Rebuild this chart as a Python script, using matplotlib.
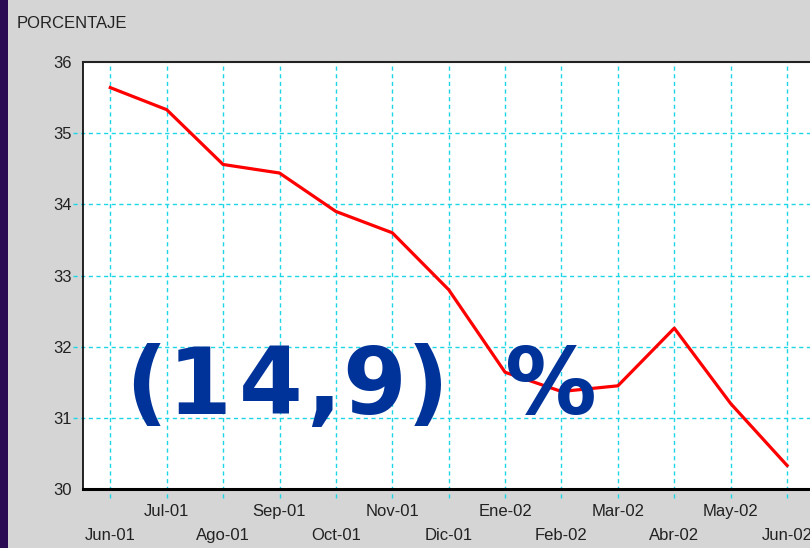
import matplotlib
matplotlib.use("Agg")
import matplotlib.pyplot as plt
from matplotlib.patches import Rectangle
import matplotlib.transforms as mtrans

months = ["Jun-01", "Jul-01", "Ago-01", "Sep-01", "Oct-01", "Nov-01", "Dic-01",
          "Ene-02", "Feb-02", "Mar-02", "Abr-02", "May-02", "Jun-02"]
values = [35.64, 35.33, 34.56, 34.44, 33.90, 33.60, 32.80,
          31.64, 31.37, 31.45, 32.26, 31.20, 30.33]
yticks = [30, 31, 32, 33, 34, 35, 36]
ylabel_text = "PORCENTAJE"
big_chars = ["(", "1", "4", ",", "9", ")", "%"]
big_char_center_px = [146, 200, 271, 324, 374, 428, 551]

W, H = 810, 548
fig = plt.figure(figsize=(W / 100, H / 100), dpi=100)
fig.patch.set_facecolor("#d5d5d5")
fig.patches.append(Rectangle((0, 0), 8 / W, 1, transform=fig.transFigure,
                             facecolor="#2a0a52", edgecolor="none", zorder=0))

left_px, top_px, bottom_px = 83, 62, 489
x0 = 110.3
dx = 56.4
xmin = -(x0 - left_px) / dx
xmax = 12.5
right_px = x0 + xmax * dx
ax = fig.add_axes([left_px / W, (H - bottom_px) / H,
                   (right_px - left_px) / W, (bottom_px - top_px) / H])
ax.set_facecolor("white")
ax.set_xlim(xmin, xmax)
ax.set_ylim(30, 36)

xs = list(range(len(months)))
grid_kw = dict(color="#1cd6e6", lw=1.0, ls=(0, (3, 2.5)), zorder=1)
for x in xs:
    ax.plot([x, x], [-0.02, 1], transform=mtrans.blended_transform_factory(ax.transData, ax.transAxes),
            clip_on=False, **grid_kw)
for y in yticks[1:-1]:
    ax.plot([-0.014, 1], [y, y], transform=mtrans.blended_transform_factory(ax.transAxes, ax.transData),
            clip_on=False, **grid_kw)

ax.plot(xs, values, color="#ff0000", lw=2.3, zorder=3, solid_joinstyle="round")

font = "Liberation Sans"
ax.set_yticks(yticks)
ax.set_yticklabels([str(v) for v in yticks], fontsize=12, family=font, color="#222222")
ax.set_xticks(xs)
ax.set_xticklabels(months, fontsize=12, family=font, color="#222222")
ax.tick_params(axis="both", length=0)
ax.tick_params(axis="y", pad=8)
for i, t in enumerate(ax.xaxis.get_major_ticks()):
    t.set_pad(28 if i % 2 == 0 else 11)

ax.spines["right"].set_visible(False)
ax.spines["left"].set_linewidth(1.2)
ax.spines["left"].set_color("black")
ax.spines["bottom"].set_linewidth(2.2)
ax.spines["bottom"].set_color("black")
ax.spines["top"].set_linewidth(1.5)
ax.spines["top"].set_color("#222222")
for s in ax.spines.values():
    s.set_zorder(4)

fig.text(17 / W, (H - 28) / H, ylabel_text, fontsize=12, family=font, color="#222222",
         ha="left", va="baseline")

baseline_px = 414
for ch, xc in zip(big_chars, big_char_center_px):
    fig.text(xc / W, (H - baseline_px) / H, ch, fontsize=66, family="DejaVu Sans",
             weight="bold", color="#003399", ha="center", va="baseline", zorder=5)

fig.savefig("out.png", dpi=100, facecolor=fig.get_facecolor())
